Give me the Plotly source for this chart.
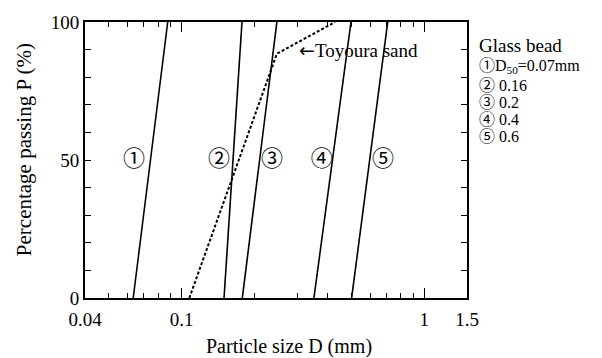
import math
import plotly.graph_objects as go

# Glass bead gradation lines (straight on semi-log paper)
bead_labels = ["①", "②", "③", "④", "⑤"]
bead_d_p0 = [0.0632, 0.1496, 0.1779, 0.351, 0.502]     # D (mm) at P = 0 %
bead_d_p100 = [0.0877, 0.1774, 0.247, 0.499, 0.707]   # D (mm) at P = 100 %
bead_label_d = [0.0637, 0.1426, 0.2358, 0.378, 0.676]  # label D positions
bead_label_p = [50, 50, 50, 50, 50]

# Toyoura sand gradation
toyoura_d = [0.1076, 0.247, 0.429]
toyoura_p = [0, 88.5, 100]
toyoura_label = "Toyoura sand"
toyoura_label_d = 0.299
toyoura_label_p = 90

# Axis ticks
x_range = [0.04, 1.5]
y_range = [0, 100]
x_tickvals = [0.04, 0.1, 1, 1.5]
x_ticktext = ["0.04", "0.1", "1", "1.5"]
x_minor = [0.05, 0.06, 0.07, 0.08, 0.09, 0.2, 0.3, 0.4, 0.5, 0.6, 0.7, 0.8, 0.9]
y_tickvals = [0, 50, 100]
y_minor = [10, 20, 30, 40, 60, 70, 80, 90]

legend_lines = ["Glass bead", "①D<sub>50</sub>=0.07mm", "② 0.16", "③ 0.2", "④ 0.4", "⑤ 0.6"]

FONT = "Liberation Serif, Times New Roman, Noto Sans CJK JP, serif"
CIRC = "Noto Sans CJK JP, DejaVu Sans, sans-serif"

fig = go.Figure()
for lab, d0, d1 in zip(bead_labels, bead_d_p0, bead_d_p100):
    fig.add_trace(go.Scatter(x=[d0, d1], y=[0, 100], mode="lines",
                             line=dict(color="black", width=1.6),
                             showlegend=False, hoverinfo="skip"))
fig.add_trace(go.Scatter(x=toyoura_d, y=toyoura_p, mode="lines", xaxis="x2", yaxis="y2",
                         line=dict(color="black", width=2, dash="3px,2px"),
                         showlegend=False, hoverinfo="skip"))
fig.add_trace(go.Scatter(x=bead_label_d, y=bead_label_p, mode="text",
                         text=bead_labels,
                         textfont=dict(family=CIRC, size=22, color="black"),
                         showlegend=False, hoverinfo="skip"))

annotations = []
annotations.append(dict(x=math.log10(toyoura_label_d), y=toyoura_label_p, xref="x", yref="y",
                        xanchor="left", yanchor="middle",
                        text='<span style="font-family:DejaVu Sans">←</span>' + toyoura_label,
                        showarrow=False,
                        font=dict(family=FONT, size=19, color="black")))
# axis titles
annotations.append(dict(x=0.534, y=0, xref="paper", yref="paper", yshift=-48,
                        xanchor="center", yanchor="middle", text="Particle size D (mm)",
                        showarrow=False, font=dict(family=FONT, size=20, color="black")))
annotations.append(dict(x=0, y=0.5356, xref="paper", yref="paper", xshift=-61,
                        xanchor="center", yanchor="middle", textangle=-90,
                        text="Percentage passing P (%)",
                        showarrow=False, font=dict(family=FONT, size=21, color="black")))
# legend block
legend_y_px = [40.5, 61, 80.5, 97.5, 114.5, 131.5]
legend_sizes = [19, 16, 16, 16, 16, 16]
for txt, ypx, fs in zip(legend_lines, legend_y_px, legend_sizes):
    annotations.append(dict(x=1, y=1, xref="paper", yref="paper", xshift=11, yshift=17 - ypx,
                            xanchor="left", yanchor="middle", text=txt, showarrow=False,
                            borderpad=0,
                            font=dict(family=FONT, size=fs, color="black")))

fig.update_layout(
    width=602, height=358,
    margin=dict(l=85, r=135, t=17, b=60),
    paper_bgcolor="white", plot_bgcolor="white",
    annotations=annotations,
    showlegend=False,
)

xlog = [math.log10(v) for v in x_range]
common_x = dict(type="log", range=xlog, tickvals=x_tickvals,
                ticks="inside", ticklen=10, tickwidth=1.2, tickcolor="black",
                minor=dict(tickvals=x_minor, ticks="inside", ticklen=5, tickwidth=1, tickcolor="black"),
                showline=True, linecolor="black", linewidth=2,
                showgrid=False, zeroline=False, fixedrange=True)
common_y = dict(range=y_range, tickvals=y_tickvals,
                ticks="inside", ticklen=6, tickwidth=1.2, tickcolor="black",
                minor=dict(tickvals=y_minor, ticks="inside", ticklen=6, tickwidth=1, tickcolor="black"),
                showline=True, linecolor="black", linewidth=2,
                showgrid=False, zeroline=False, fixedrange=True)

fig.update_layout(
    xaxis=dict(**common_x, ticktext=x_ticktext, side="bottom", ticklabelstandoff=3,
               tickfont=dict(family=FONT, size=19, color="black")),
    yaxis=dict(**common_y, side="left",
               tickfont=dict(family=FONT, size=19, color="black")),
    xaxis2=dict(**common_x, overlaying="x", side="top", showticklabels=False),
    yaxis2=dict(**common_y, overlaying="y", side="right", showticklabels=False),
)

fig.write_html("out.html")
